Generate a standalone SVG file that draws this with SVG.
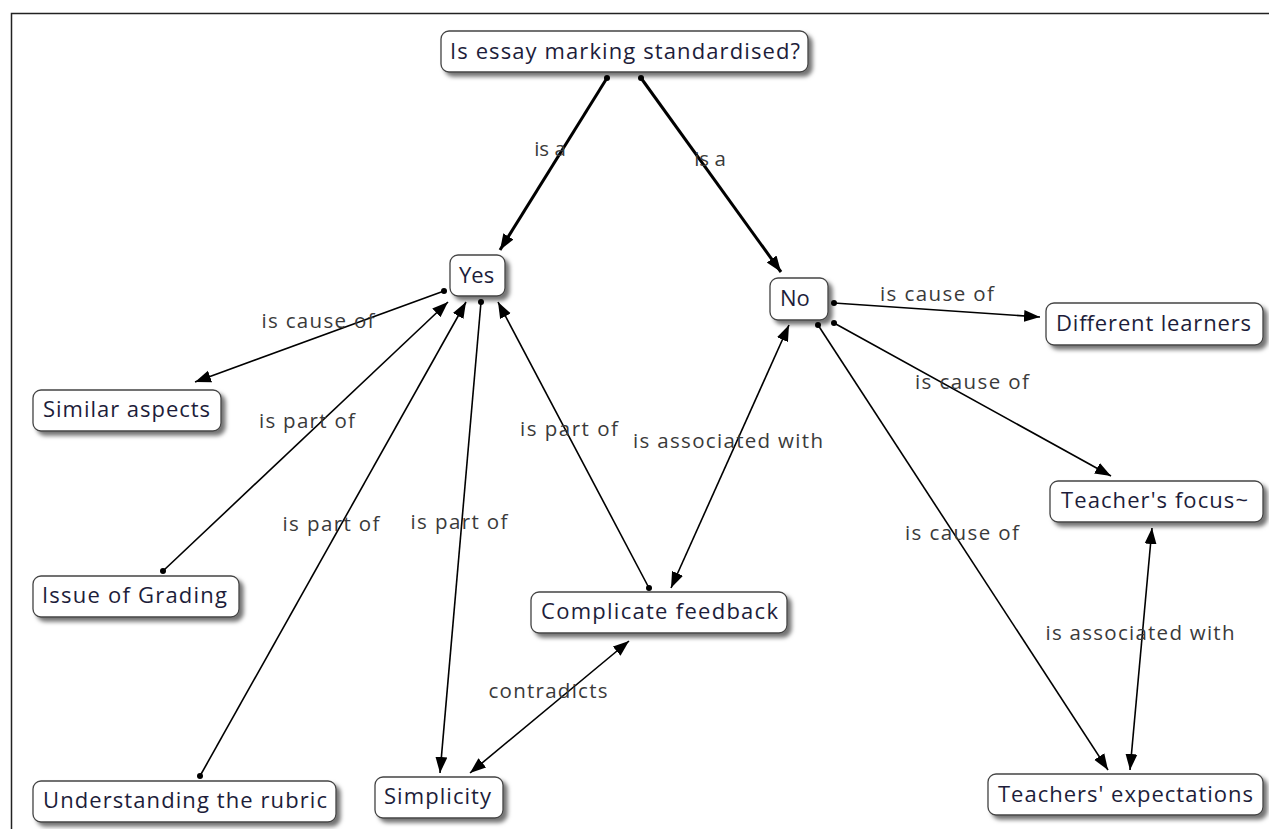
<svg xmlns="http://www.w3.org/2000/svg" width="1269" height="829" viewBox="0 0 1269 829">
<defs>
<style>
.node rect{fill:#fff;stroke:#444;stroke-width:1.3;filter:url(#sh)}
.node text{font-family:"Open Sans","Noto Sans",sans-serif;font-size:22px;fill:#1d1d3a}
.lbl{font-family:"Open Sans","Noto Sans",sans-serif;font-size:20.5px;fill:#3a3a3a;text-anchor:middle}
.e{stroke:#000;stroke-width:1.6;fill:none}
.t{stroke:#000;stroke-width:3;fill:none}
</style>
<filter id="sh" x="-20%" y="-30%" width="140%" height="170%">
<feDropShadow dx="4" dy="4" stdDeviation="2.2" flood-color="#000" flood-opacity="0.55"/>
</filter>
<marker id="ah" markerUnits="userSpaceOnUse" markerWidth="18" markerHeight="14" refX="16" refY="6" orient="auto-start-reverse" viewBox="0 0 18 12">
<path d="M0,0 L16,6 L0,12 z" fill="#000"/>
</marker>
<marker id="dot" markerUnits="userSpaceOnUse" markerWidth="8" markerHeight="8" refX="4" refY="4" viewBox="0 0 8 8">
<circle cx="4" cy="4" r="3" fill="#000"/>
</marker>
</defs>
<rect x="0" y="0" width="1269" height="829" fill="#fff"/>
<path d="M11.5,829 V13.5 H1269" fill="none" stroke="#222" stroke-width="1.5"/>

<g id="connectors">
<line class="t" x1="607" y1="78" x2="500" y2="250" marker-start="url(#dot)" marker-end="url(#ah)"/>
<line class="t" x1="641" y1="78" x2="781" y2="272" marker-start="url(#dot)" marker-end="url(#ah)"/>
<line class="e" x1="444" y1="291" x2="195" y2="382" marker-start="url(#dot)" marker-end="url(#ah)"/>
<line class="e" x1="163" y1="571" x2="448" y2="302" marker-start="url(#dot)" marker-end="url(#ah)"/>
<line class="e" x1="200" y1="776" x2="466" y2="302" marker-start="url(#dot)" marker-end="url(#ah)"/>
<line class="e" x1="481" y1="302" x2="440" y2="773" marker-start="url(#dot)" marker-end="url(#ah)"/>
<line class="e" x1="649" y1="588" x2="498" y2="302" marker-start="url(#dot)" marker-end="url(#ah)"/>
<line class="e" x1="671" y1="588" x2="789" y2="325" marker-start="url(#ah)" marker-end="url(#ah)"/>
<line class="e" x1="470" y1="773" x2="629" y2="641" marker-start="url(#ah)" marker-end="url(#ah)"/>
<line class="e" x1="834" y1="303" x2="1040" y2="317" marker-start="url(#dot)" marker-end="url(#ah)"/>
<line class="e" x1="834" y1="323" x2="1111" y2="476" marker-start="url(#dot)" marker-end="url(#ah)"/>
<line class="e" x1="818" y1="325" x2="1108" y2="770" marker-start="url(#dot)" marker-end="url(#ah)"/>
<line class="e" x1="1152" y1="528" x2="1130" y2="770" marker-start="url(#ah)" marker-end="url(#ah)"/>
<text class="lbl" x="550" y="156">is a</text>
<text class="lbl" x="710" y="166">is a</text>
<text class="lbl" x="318" y="328" textLength="113">is cause of</text>
<text class="lbl" x="307" y="428" textLength="96">is part of</text>
<text class="lbl" x="331" y="531" textLength="97">is part of</text>
<text class="lbl" x="459" y="529" textLength="97">is part of</text>
<text class="lbl" x="569" y="436" textLength="98">is part of</text>
<text class="lbl" x="728" y="448" textLength="190">is associated with</text>
<text class="lbl" x="548" y="698" textLength="119">contradicts</text>
<text class="lbl" x="937" y="301" textLength="114">is cause of</text>
<text class="lbl" x="972" y="389" textLength="114">is cause of</text>
<text class="lbl" x="962" y="540" textLength="114">is cause of</text>
<text class="lbl" x="1140" y="640" textLength="189">is associated with</text>
</g>

<g id="n-top" class="node"><rect x="441" y="31" width="367" height="41" rx="8"/><text x="450" y="59" textLength="350">Is essay marking standardised?</text></g>
<g id="n-yes" class="node"><rect x="450" y="255" width="55" height="41" rx="8"/><text x="459" y="283">Yes</text></g>
<g id="n-no" class="node"><rect x="770" y="278" width="58" height="42" rx="8"/><text x="780" y="306">No</text></g>
<g id="n-diff" class="node"><rect x="1046" y="303" width="217" height="42" rx="8"/><text x="1056" y="331" textLength="195">Different learners</text></g>
<g id="n-similar" class="node"><rect x="33" y="390" width="188" height="41" rx="8"/><text x="43" y="417" textLength="167">Similar aspects</text></g>
<g id="n-focus" class="node"><rect x="1050" y="481" width="213" height="41" rx="8"/><text x="1061" y="508" textLength="187">Teacher's focus~</text></g>
<g id="n-grading" class="node"><rect x="33" y="576" width="206" height="41" rx="8"/><text x="42" y="603" textLength="185">Issue of Grading</text></g>
<g id="n-feedback" class="node"><rect x="531" y="592" width="256" height="41" rx="8"/><text x="541" y="619" textLength="237">Complicate feedback</text></g>
<g id="n-rubric" class="node"><rect x="33" y="781" width="303" height="41" rx="8"/><text x="43" y="808" textLength="284">Understanding the rubric</text></g>
<g id="n-simplicity" class="node"><rect x="375" y="777" width="128" height="41" rx="8"/><text x="384" y="804" textLength="107">Simplicity</text></g>
<g id="n-expect" class="node"><rect x="988" y="774" width="275" height="41" rx="8"/><text x="998" y="802" textLength="255">Teachers' expectations</text></g>
</svg>
